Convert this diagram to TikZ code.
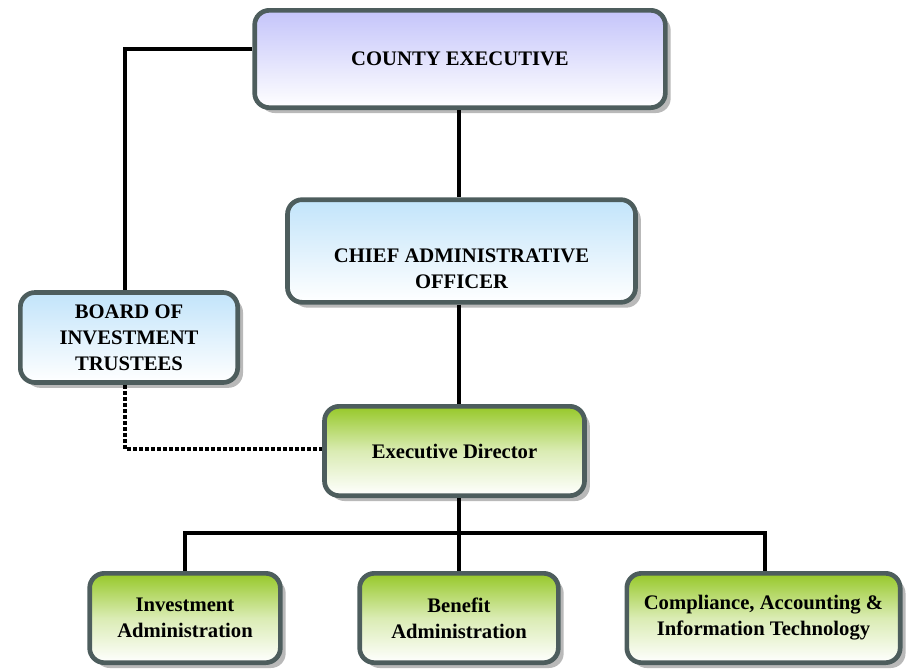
\documentclass[tikz,border=0pt]{standalone}
\usepackage{xcolor}
\usepackage{fontspec}
\setmainfont{Liberation Serif}
\usepackage{tikz}
\usetikzlibrary{shadows}

\definecolor{rimgray}{RGB}{77,93,93}
\definecolor{lavtop}{RGB}{196,196,250}
\definecolor{skytop}{RGB}{194,228,250}
\definecolor{leaftop}{RGB}{150,200,40}

\begin{document}
\begin{tikzpicture}[x=0.75pt,y=0.75pt,yscale=-1,xscale=1,
    orgbox/.style={draw=rimgray, line width=3.5pt, rounded corners=11pt, align=center,
        font=\fontsize{15.5}{19.5}\selectfont\bfseries, inner sep=2pt,
        drop shadow={shadow xshift=4pt, shadow yshift=-4pt, fill=gray!55, opacity=1}},
    lavbox/.style={orgbox, top color=lavtop, bottom color=white},
    skybox/.style={orgbox, top color=skytop, bottom color=white},
    leafbox/.style={orgbox, top color=leaftop, bottom color=white, middle color=leaftop!35},
    wire/.style={line width=3.4pt},
    dotwire/.style={line width=2.8pt, dash pattern=on 3pt off 1.5pt}]

    \useasboundingbox (0,0) rectangle (912,671);

    \draw (460,59) node [lavbox, minimum width=308pt, minimum height=73pt] (ce) {COUNTY EXECUTIVE};
    \draw (461.5,251) node [skybox, minimum width=261pt, minimum height=77pt] (cao) {\mbox{}\\[17pt]CHIEF ADMINISTRATIVE\\OFFICER};
    \draw (129,337.5) node [skybox, minimum width=163pt, minimum height=67.5pt] (bit) {BOARD OF\\INVESTMENT\\TRUSTEES};
    \draw (454.5,451) node [leafbox, minimum width=195pt, minimum height=67pt] (ed) {Executive Director};
    \draw (185,618) node [leafbox, minimum width=143pt, minimum height=67pt] (inv) {Investment\\Administration};
    \draw (459,618) node [leafbox, minimum width=149pt, minimum height=67pt] (ben) {Benefit\\Administration};
    \draw (763.5,618) node [leafbox, minimum width=205pt, minimum height=67pt] (cait) {Compliance, Accounting \&\\Information Technology};

    \coordinate (bus) at (459,533);

    \draw [wire]   ([yshift=-7.5pt]ce.west) -| ([xshift=-3pt]bit.north);
    \draw [wire]   (ce.south -| bus) -- (cao.north -| bus);
    \draw [wire]   (cao.south -| bus) -- (ed.north -| bus);
    \draw [dotwire]   ([xshift=-3pt]bit.south) |- ([yshift=-1.5pt]ed.west);
    \draw [wire]   (ed.south -| bus) -- (bus);
    \draw [wire]   (inv.north) |- (bus) -| ([xshift=1pt]cait.north);
    \draw [wire]   (bus) -- (ben.north);
\end{tikzpicture}
\end{document}
